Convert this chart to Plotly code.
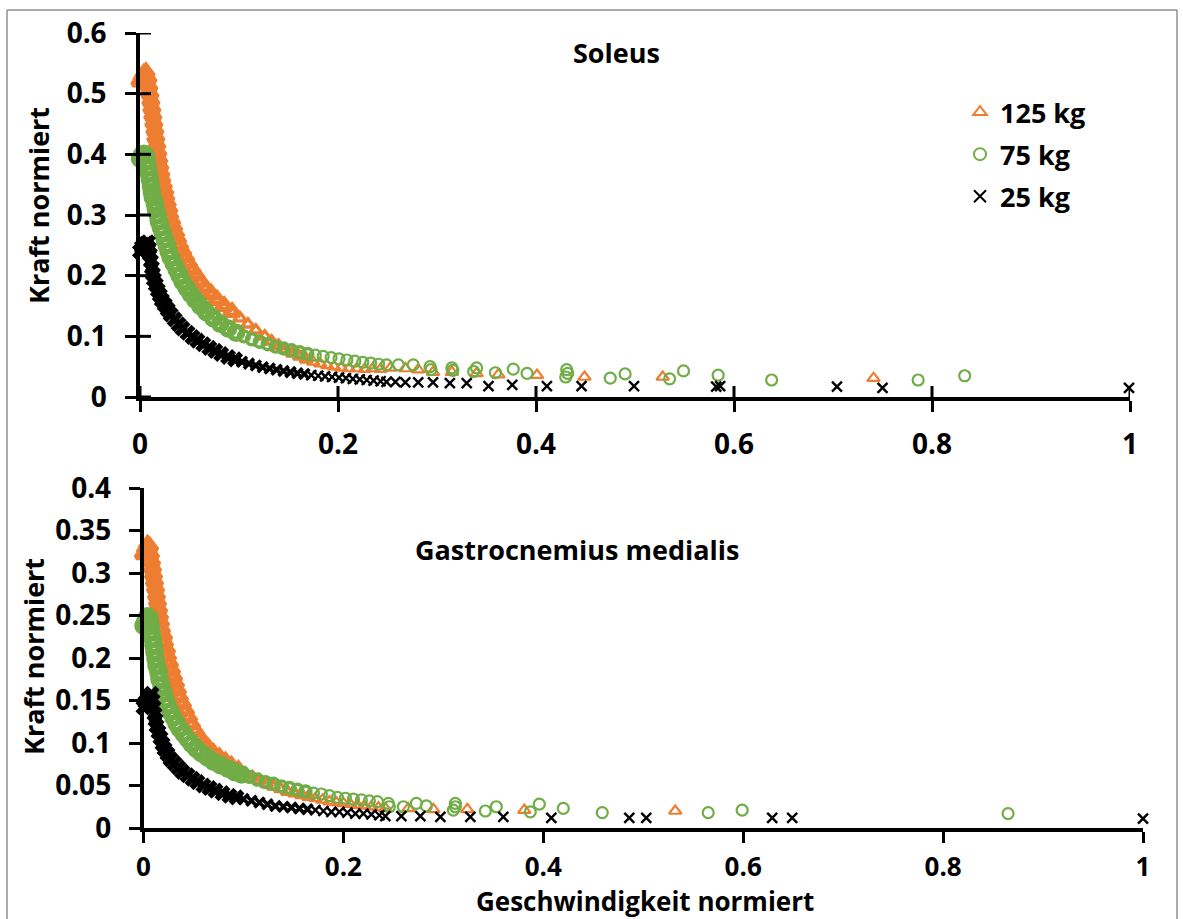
import plotly.graph_objects as go

W, H = 1183, 919

# ---------------- data: Soleus (top) ----------------
sol_125_x = [0.000, 0.002, 0.004, 0.006, 0.008, 0.009, 0.010, 0.011, 0.012, 0.013, 0.014, 0.015, 0.016, 0.017,
             0.018, 0.019, 0.020, 0.021, 0.022, 0.0235, 0.025, 0.026, 0.0275, 0.029, 0.030, 0.032, 0.034, 0.036,
             0.038, 0.040, 0.043, 0.046, 0.049, 0.053, 0.057, 0.061, 0.066, 0.072, 0.078, 0.085, 0.093, 0.101,
             0.109, 0.117, 0.126, 0.133, 0.140, 0.147, 0.154, 0.161, 0.168, 0.175, 0.182, 0.189, 0.196, 0.203,
             0.211, 0.219, 0.227, 0.235, 0.243,
             0.253, 0.268, 0.281, 0.296, 0.315, 0.340, 0.362, 0.401, 0.449, 0.528, 0.741]
sol_125_y = [0.520, 0.527, 0.533, 0.535, 0.525, 0.512, 0.500, 0.488, 0.476, 0.464, 0.452, 0.440, 0.428, 0.416,
             0.404, 0.392, 0.381, 0.370, 0.360, 0.350, 0.340, 0.330, 0.320, 0.310, 0.300, 0.290, 0.280, 0.270,
             0.260, 0.250, 0.240, 0.230, 0.220, 0.210, 0.200, 0.190, 0.180, 0.170, 0.160, 0.150, 0.140, 0.130,
             0.120, 0.110, 0.100, 0.092, 0.085, 0.078, 0.072, 0.067, 0.062, 0.058, 0.055, 0.052, 0.050, 0.048,
             0.047, 0.047, 0.046, 0.047, 0.046,
             0.048, 0.047, 0.045, 0.041, 0.041, 0.039, 0.037, 0.036, 0.033, 0.033, 0.031]

sol_75_x = [0.000, 0.002, 0.004, 0.006, 0.007, 0.008, 0.009, 0.010, 0.011, 0.012, 0.013, 0.015, 0.016, 0.018,
            0.019, 0.021, 0.023, 0.025, 0.027, 0.029, 0.031, 0.034, 0.037, 0.040, 0.043, 0.047, 0.051, 0.056,
            0.061, 0.067, 0.074, 0.081, 0.089, 0.097, 0.105, 0.113, 0.121, 0.129, 0.137, 0.145, 0.153, 0.161,
            0.169, 0.177, 0.185, 0.193, 0.201, 0.209, 0.217, 0.225, 0.233, 0.241,
            0.249, 0.261, 0.276, 0.293, 0.294, 0.315, 0.316, 0.337, 0.340, 0.359, 0.377, 0.391, 0.431, 0.432,
            0.430, 0.475, 0.490, 0.535, 0.549, 0.584, 0.638, 0.786, 0.833]
sol_75_y = [0.393, 0.399, 0.401, 0.398, 0.388, 0.378, 0.368, 0.358, 0.348, 0.338, 0.329, 0.319, 0.310, 0.300,
            0.290, 0.280, 0.270, 0.260, 0.250, 0.240, 0.230, 0.220, 0.210, 0.200, 0.190, 0.180, 0.170, 0.160,
            0.150, 0.140, 0.130, 0.121, 0.113, 0.106, 0.100, 0.095, 0.091, 0.087, 0.083, 0.080, 0.077, 0.074,
            0.071, 0.069, 0.067, 0.065, 0.063, 0.061, 0.059, 0.057, 0.056, 0.054,
            0.053, 0.053, 0.053, 0.050, 0.045, 0.048, 0.044, 0.042, 0.048, 0.040, 0.046, 0.039, 0.045, 0.039,
            0.033, 0.031, 0.038, 0.030, 0.043, 0.036, 0.028, 0.028, 0.035]

sol_25_x = [0.000, 0.002, 0.004, 0.006, 0.008, 0.009, 0.010, 0.011, 0.012, 0.013, 0.014, 0.016, 0.018, 0.020,
            0.022, 0.025, 0.028, 0.031, 0.035, 0.039, 0.043, 0.048, 0.053, 0.058, 0.064, 0.070, 0.076, 0.082,
            0.089, 0.096, 0.103, 0.110, 0.117, 0.124, 0.131, 0.138, 0.145, 0.152, 0.159, 0.166, 0.173, 0.180,
            0.187, 0.194, 0.201, 0.208, 0.215, 0.222, 0.229, 0.236, 0.243,
            0.249, 0.258, 0.268, 0.281, 0.296, 0.313, 0.330, 0.352, 0.376, 0.411, 0.446, 0.499, 0.582, 0.586,
            0.704, 0.750, 0.999]
sol_25_y = [0.240, 0.247, 0.251, 0.253, 0.255, 0.245, 0.235, 0.224, 0.213, 0.203, 0.194, 0.185, 0.176, 0.168,
            0.160, 0.152, 0.144, 0.136, 0.128, 0.120, 0.113, 0.106, 0.099, 0.093, 0.087, 0.081, 0.076, 0.071,
            0.066, 0.062, 0.058, 0.055, 0.052, 0.049, 0.047, 0.045, 0.043, 0.041, 0.039, 0.038, 0.036, 0.035,
            0.034, 0.033, 0.032, 0.031, 0.030, 0.029, 0.028, 0.027, 0.026,
            0.025, 0.025, 0.024, 0.024, 0.024, 0.023, 0.023, 0.018, 0.020, 0.018, 0.018, 0.018, 0.017, 0.018,
            0.017, 0.015, 0.015]

# ---------------- data: Gastrocnemius medialis (bottom) ----------------
gas_125_x = [0.000, 0.002, 0.004, 0.006, 0.007, 0.008, 0.009, 0.010, 0.011, 0.012, 0.013, 0.014, 0.015, 0.016,
             0.017, 0.018, 0.020, 0.021, 0.023, 0.024, 0.026, 0.028, 0.030, 0.032, 0.034, 0.036, 0.039, 0.042,
             0.045, 0.048, 0.052, 0.056, 0.060, 0.065, 0.070, 0.076, 0.082, 0.088, 0.095, 0.102, 0.109, 0.116,
             0.123, 0.130, 0.137, 0.144, 0.151, 0.158, 0.165, 0.172, 0.179, 0.186, 0.193, 0.200, 0.207, 0.214,
             0.221, 0.228, 0.235, 0.242,
             0.265, 0.290, 0.324, 0.381, 0.532]
gas_125_y = [0.322, 0.328, 0.333, 0.331, 0.322, 0.314, 0.306, 0.298, 0.290, 0.282, 0.274, 0.266, 0.258, 0.250,
             0.242, 0.234, 0.226, 0.218, 0.210, 0.202, 0.194, 0.186, 0.178, 0.170, 0.162, 0.154, 0.146, 0.138,
             0.130, 0.122, 0.114, 0.107, 0.100, 0.094, 0.088, 0.083, 0.078, 0.073, 0.068, 0.064, 0.060, 0.056,
             0.052, 0.049, 0.046, 0.043, 0.041, 0.039, 0.037, 0.035, 0.033, 0.031, 0.030, 0.029, 0.028, 0.027,
             0.026, 0.025, 0.024, 0.023,
             0.023, 0.022, 0.022, 0.021, 0.020]

gas_75_x = [0.000, 0.002, 0.004, 0.006, 0.007, 0.008, 0.009, 0.010, 0.011, 0.012, 0.013, 0.015, 0.016, 0.018,
            0.020, 0.022, 0.024, 0.027, 0.030, 0.033, 0.036, 0.040, 0.044, 0.048, 0.053, 0.058, 0.064, 0.070,
            0.077, 0.084, 0.091, 0.098, 0.106, 0.114, 0.122, 0.130, 0.138, 0.146, 0.154, 0.162, 0.170, 0.178,
            0.186, 0.194, 0.202, 0.210, 0.218, 0.226, 0.234,
            0.245, 0.246, 0.260, 0.273, 0.283, 0.312, 0.312, 0.310, 0.342, 0.353, 0.387, 0.396, 0.420, 0.459,
            0.565, 0.599, 0.865]
gas_75_y = [0.238, 0.244, 0.249, 0.247, 0.239, 0.231, 0.223, 0.215, 0.207, 0.199, 0.191, 0.183, 0.175, 0.167,
            0.159, 0.151, 0.144, 0.137, 0.130, 0.123, 0.117, 0.111, 0.105, 0.099, 0.093, 0.088, 0.083, 0.078,
            0.074, 0.070, 0.066, 0.063, 0.060, 0.057, 0.054, 0.052, 0.049, 0.047, 0.045, 0.043, 0.041, 0.040,
            0.038, 0.036, 0.035, 0.034, 0.033, 0.032, 0.031,
            0.029, 0.025, 0.025, 0.029, 0.026, 0.029, 0.025, 0.021, 0.020, 0.025, 0.019, 0.028, 0.023, 0.018,
            0.018, 0.021, 0.017]

gas_25_x = [0.000, 0.002, 0.004, 0.006, 0.008, 0.009, 0.010, 0.011, 0.012, 0.013, 0.015, 0.017, 0.019, 0.021,
            0.024, 0.027, 0.031, 0.035, 0.039, 0.044, 0.049, 0.054, 0.060, 0.066, 0.072, 0.079, 0.086, 0.093,
            0.100, 0.108, 0.116, 0.124, 0.132, 0.140, 0.148, 0.156, 0.164, 0.172, 0.180, 0.188, 0.196, 0.204,
            0.212, 0.220, 0.228, 0.236,
            0.242, 0.258, 0.277, 0.297, 0.327, 0.360, 0.408, 0.486, 0.503, 0.629, 0.649, 1.000]
gas_25_y = [0.142, 0.148, 0.152, 0.155, 0.158, 0.150, 0.142, 0.134, 0.127, 0.120, 0.113, 0.106, 0.099, 0.093,
            0.087, 0.081, 0.076, 0.071, 0.066, 0.062, 0.058, 0.054, 0.050, 0.047, 0.044, 0.041, 0.038, 0.036,
            0.034, 0.032, 0.030, 0.028, 0.026, 0.025, 0.024, 0.023, 0.022, 0.021, 0.020, 0.019, 0.019, 0.018,
            0.017, 0.017, 0.016, 0.015,
            0.014, 0.014, 0.014, 0.013, 0.013, 0.013, 0.012, 0.012, 0.012, 0.012, 0.012, 0.011]

# ---------------- axes / labels ----------------
x_ticks = [0, 0.2, 0.4, 0.6, 0.8, 1]
x_ticklabels = ["0", "0.2", "0.4", "0.6", "0.8", "1"]
sol_y_ticks = [0, 0.1, 0.2, 0.3, 0.4, 0.5, 0.6]
sol_y_ticklabels = ["0", "0.1", "0.2", "0.3", "0.4", "0.5", "0.6"]
gas_y_ticks = [0, 0.05, 0.1, 0.15, 0.2, 0.25, 0.3, 0.35, 0.4]
gas_y_ticklabels = ["0", "0.05", "0.1", "0.15", "0.2", "0.25", "0.3", "0.35", "0.4"]
series_names = ["125 kg", "75 kg", "25 kg"]
series_colors = ["#ED7D31", "#70AD47", "#000000"]
series_symbols = ["triangle-up-open", "circle-open", "x-thin-open"]
series_sizes = [11, 11, 10]
series_lw = [2.2, 2.2, 2.4]

FONT = "Open Sans"
FS = 27
TFS = 28


def px(xp):
    return xp / W


def py(yp):
    return 1 - yp / H


def widths(xs, thin):
    # heavier strokes where the points crowd into a solid band (steep part of the curve)
    return [thin + 3.4 if x < 0.1 else (thin + 1.2 if x < 0.17 else thin) for x in xs]


def sizes(xs, base):
    return [base + 2 if x < 0.1 else base for x in xs]


fig = go.Figure()

sol_data = [(sol_125_x, sol_125_y), (sol_75_x, sol_75_y), (sol_25_x, sol_25_y)]
gas_data = [(gas_125_x, gas_125_y), (gas_75_x, gas_75_y), (gas_25_x, gas_25_y)]

for i, (xs, ys) in enumerate(sol_data):
    fig.add_trace(go.Scatter(
        x=xs, y=ys, mode="markers", name=series_names[i], legendgroup=series_names[i],
        xaxis="x", yaxis="y", cliponaxis=False,
        marker=dict(symbol=series_symbols[i], size=sizes(xs, series_sizes[i]), color=series_colors[i],
                    opacity=1,
                    line=dict(color=series_colors[i], width=widths(xs, series_lw[i]))),
    ))
for i, (xs, ys) in enumerate(gas_data):
    fig.add_trace(go.Scatter(
        x=xs, y=ys, mode="markers", name=series_names[i], legendgroup=series_names[i],
        showlegend=False, xaxis="x2", yaxis="y2", cliponaxis=False,
        marker=dict(symbol=series_symbols[i], size=sizes(xs, series_sizes[i]), color=series_colors[i],
                    opacity=1,
                    line=dict(color=series_colors[i], width=widths(xs, series_lw[i]))),
    ))

tickfont = dict(family=FONT, size=TFS, color="black", weight="bold")
common_axis = dict(showline=True, linecolor="black", linewidth=3.5, showgrid=False, zeroline=False,
                   ticks="outside", ticklen=11, tickwidth=3, tickcolor="black", tickfont=tickfont,
                   tickmode="array", fixedrange=True, automargin=False)
bottom_x_axis = dict(common_axis, tickfont=dict(tickfont, size=26))

fig.update_layout(
    template="none",
    width=W, height=H, margin=dict(l=0, r=0, t=0, b=0, autoexpand=False),
    paper_bgcolor="white", plot_bgcolor="white",
    font=dict(family=FONT, size=FS, color="black"),
    xaxis=dict(domain=[px(140), px(1130)], range=[0, 1], anchor="y",
               tickvals=x_ticks, ticktext=x_ticklabels, ticklabelstandoff=9, **common_axis),
    yaxis=dict(domain=[py(397), py(33)], range=[0, 0.6], anchor="x",
               tickvals=sol_y_ticks, ticktext=sol_y_ticklabels, ticklabelstandoff=13, **common_axis),
    xaxis2=dict(domain=[px(143.5), px(1143)], range=[0, 1], anchor="y2",
                tickvals=x_ticks, ticktext=x_ticklabels, ticklabelstandoff=2, **bottom_x_axis),
    yaxis2=dict(domain=[py(828), py(488)], range=[0, 0.4], anchor="x2",
                tickvals=gas_y_ticks, ticktext=gas_y_ticklabels, ticklabelstandoff=12, **common_axis),
    showlegend=True,
    legend=dict(x=px(960), y=py(88), xanchor="left", yanchor="top", bgcolor="rgba(0,0,0,0)",
                font=dict(family=FONT, size=FS, color="black", weight="bold"),
                tracegroupgap=4, itemsizing="constant"),
)

# inner halves of the crossing ticks on the Soleus axes
shapes = []
for v in x_ticks:
    shapes.append(dict(type="line", xref="x", yref="y", x0=v, x1=v, ysizemode="pixel", yanchor=0,
                       y0=0, y1=11, line=dict(color="black", width=3)))
for v in sol_y_ticks:
    shapes.append(dict(type="line", xref="x", yref="y", y0=v, y1=v, xsizemode="pixel", xanchor=0,
                       x0=0, x1=11, line=dict(color="black", width=3)))
# outer chart frame
shapes.append(dict(type="rect", xref="paper", yref="paper", x0=px(7), x1=px(1177), y0=py(925), y1=py(10),
                   line=dict(color="#595959", width=1), fillcolor="rgba(0,0,0,0)", layer="below"))
fig.update_layout(shapes=shapes)

annfont = dict(family=FONT, size=FS, color="black", weight="bold")
anns = [
    dict(text="Soleus", x=px(616), y=py(52)),
    dict(text="Gastrocnemius medialis", x=px(577), y=py(549)),
    dict(text="Kraft normiert", x=px(39), y=py(206), textangle=-90),
    dict(text="Kraft normiert", x=px(33), y=py(657), textangle=-90),
    dict(text="Geschwindigkeit normiert", x=px(645), y=py(901), font_size=26),
]
for a in anns:
    fs = a.pop("font_size", FS)
    a.update(xref="paper", yref="paper", xanchor="center", yanchor="middle", showarrow=False,
             font=dict(annfont, size=fs))
fig.update_layout(annotations=anns)

fig.write_html("out.html")
